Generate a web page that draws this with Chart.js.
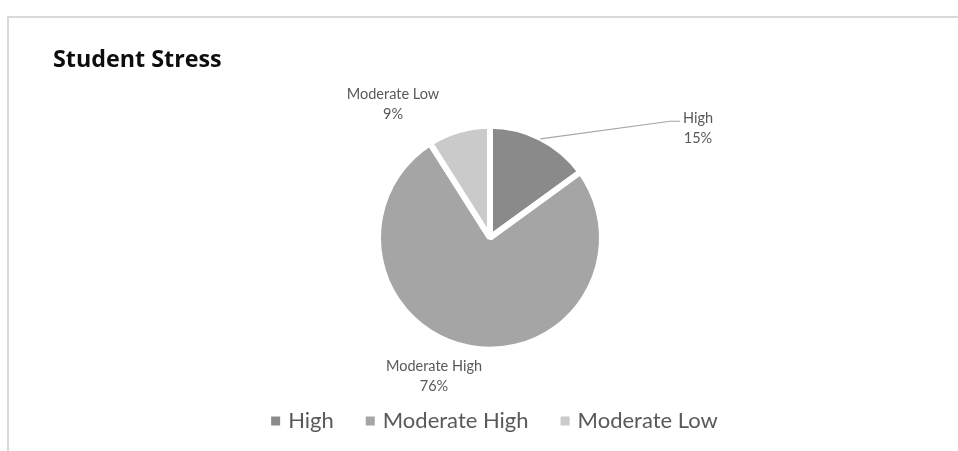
<!DOCTYPE html>
<html>
<head>
<meta charset="utf-8">
<title>Student Stress</title>
<script src="https://cdn.jsdelivr.net/npm/chart.js@4"></script>
<style>
    html, body { margin: 0; padding: 0; background: #fff; overflow: hidden; }
    #wrap { position: relative; width: 958px; height: 451px; }
    #frame {
        position: absolute; left: 7px; top: 16px; right: -4px; bottom: -4px;
        border-left: 2px solid #d9d9d9; border-top: 2px solid #d9d9d9;
    }
    canvas { position: absolute; left: 0; top: 0; }
</style>
</head>
<body>
<div id="wrap">
    <div id="frame"></div>
    <canvas id="stressChart" width="958" height="451"></canvas>
</div>
<script>
// ======================================
// Data
// ======================================
const chartTitle = "Student Stress";
const categories = ["High", "Moderate High", "Moderate Low"];
const shares = [15, 76, 9];
const sliceColors = ["#8a8a8a", "#a5a5a5", "#cacaca"];

const labelFont = "14.5px Lato, 'Open Sans', sans-serif";
const textGray = "#595959";

// where each data label sits, in units of the pie radius from its centre
const labelSpots = [
    {dx: 1.857, dy: -1.0, leader: true},
    {dx: -0.50, dy: 1.215},
    {dx: -0.866, dy: -1.215}
];

// ======================================
// Plugins
// ======================================
const titlePlugin = {
    id: "sheetTitle",
    afterDraw(chart) {
        const ctx = chart.ctx;
        ctx.save();
        ctx.font = "bold 23.3px 'Open Sans', Lato, sans-serif";
        ctx.fillStyle = "#0d0d0d";
        ctx.textAlign = "left";
        ctx.textBaseline = "alphabetic";
        ctx.fillText(chartTitle, 53, 67);
        ctx.restore();
    }
};

const sliceLabels = {
    id: "sliceLabels",
    afterDatasetsDraw(chart) {
        const ctx = chart.ctx;
        const meta = chart.getDatasetMeta(0);
        const total = shares.reduce((a, b) => a + b, 0);

        ctx.save();
        ctx.font = labelFont;
        ctx.fillStyle = textGray;
        ctx.textAlign = "center";
        ctx.textBaseline = "middle";

        meta.data.forEach((arc, i) => {
            const {x, y, outerRadius, startAngle, endAngle} = arc.getProps(
                ["x", "y", "outerRadius", "startAngle", "endAngle"], true);
            const spot = labelSpots[i];
            const lx = x + spot.dx * outerRadius;
            const ly = y + spot.dy * outerRadius;

            if (spot.leader) {
                const mid = (startAngle + endAngle) / 2;
                const r = outerRadius - 1;
                const bendX = lx - 0.25 * outerRadius;
                const bendY = ly - 0.04 * outerRadius;
                ctx.beginPath();
                ctx.strokeStyle = "#a6a6a6";
                ctx.lineWidth = 1.2;
                ctx.moveTo(x + Math.cos(mid) * r, y + Math.sin(mid) * r);
                ctx.lineTo(bendX, bendY);
                ctx.lineTo(bendX + 0.09 * outerRadius, bendY);
                ctx.stroke();
            }

            const pct = Math.round(shares[i] / total * 100) + "%";
            ctx.fillText(categories[i], lx, ly - 7.5);
            ctx.fillText(pct, lx, ly + 12.5);
        });
        ctx.restore();
    }
};

// nudge the legend row a little right of the pie centre
const legendShift = {
    id: "legendShift",
    afterLayout(chart) {
        if (chart.legend) {
            chart.legend.left += 6;
            chart.legend.right += 6;
        }
    }
};

// legend squares without the white slice border
function legendItems(chart) {
    const items = Chart.overrides.pie.plugins.legend.labels.generateLabels(chart);
    return items.map(item => ({...item, lineWidth: 0, strokeStyle: item.fillStyle, pointStyle: "rect"}));
}

// ======================================
// Chart
// ======================================
const ctx = document.getElementById("stressChart").getContext("2d");

new Chart(ctx, {
    type: "pie",
    data: {
        labels: categories,
        datasets: [{
            data: shares,
            backgroundColor: sliceColors,
            borderColor: "#ffffff",
            borderWidth: 6,
            radius: 112
        }]
    },
    options: {
        responsive: false,
        animation: false,
        layout: {
            padding: {left: 116, right: 94, top: 100.5, bottom: 9}
        },
        plugins: {
            tooltip: {enabled: false},
            title: {display: false},
            legend: {
                position: "bottom",
                labels: {
                    usePointStyle: true,
                    boxWidth: 3,
                    boxHeight: 9,
                    padding: 35,
                    color: textGray,
                    font: {family: "Lato, 'Open Sans', sans-serif", size: 22},
                    generateLabels: legendItems
                }
            }
        }
    },
    plugins: [titlePlugin, sliceLabels, legendShift]
});
</script>
</body>
</html>
